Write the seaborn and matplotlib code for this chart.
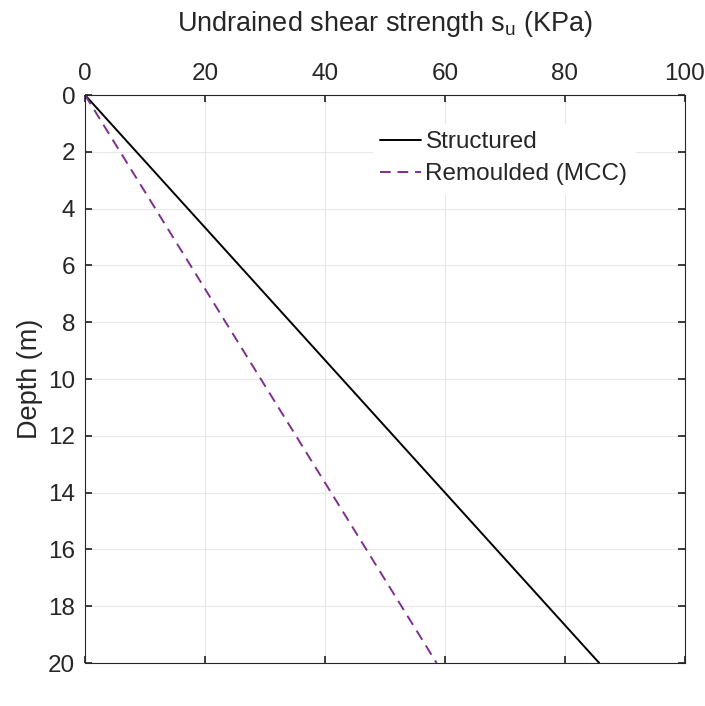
import matplotlib
matplotlib.use("Agg")
import matplotlib.pyplot as plt
import seaborn as sns
import pandas as pd

# Perfiles de resistencia al corte no drenada
profundidad = [0, 20]
su_estructurado = [0, 85.7]
su_remoldeado = [0, 58.6]

sns.set_theme(style="white")
plt.rcParams['font.family'] = ['Liberation Sans', 'DejaVu Sans']

df = pd.concat([
    pd.DataFrame({'su': su_estructurado, 'z': profundidad, 'caso': 'Structured'}),
    pd.DataFrame({'su': su_remoldeado, 'z': profundidad, 'caso': 'Remoulded (MCC)'}),
])

fig = plt.figure(figsize=(7.05, 7.06), dpi=100)
ax = fig.add_axes([85 / 705, 1 - 663 / 706, 600 / 705, 568 / 706])

sns.lineplot(data=df, x='su', y='z', hue='caso', style='caso',
             palette={'Structured': 'black', 'Remoulded (MCC)': '#7E2F8E'},
             dashes={'Structured': '', 'Remoulded (MCC)': (5.5, 3.5)},
             linewidth=1.4, ax=ax, sort=False, estimator=None)

ax.set_xlim(0, 100)
ax.set_ylim(20, 0)
ax.set_xticks(range(0, 101, 20))
ax.set_yticks(range(0, 21, 2))
ax.xaxis.tick_top()
ax.xaxis.set_label_position('top')
ax.set_xlabel(r'Undrained shear strength s$_\mathregular{u}$ (KPa)', fontsize=19.5,
              labelpad=23, color='#262626')
ax.set_ylabel('Depth (m)', fontsize=19.5, color='#262626', labelpad=4)
ax.tick_params(axis='both', labelsize=17.5, direction='in', length=5, colors='#262626',
               top=True, bottom=True, left=True, right=True, pad=7)
ax.grid(True, color='#e8e8e8', linewidth=0.8)
for s in ax.spines.values():
    s.set_color('#262626')
    s.set_linewidth(0.8)

leg = ax.legend(loc='upper left', bbox_to_anchor=(0.46, 0.97), frameon=True, fontsize=17.5,
                handlelength=1.65, handletextpad=0.2, borderpad=0.3, labelspacing=0.4)
leg.get_frame().set_edgecolor('white')
leg.get_frame().set_facecolor('white')
leg.get_frame().set_alpha(1)

fig.savefig('out.png', dpi=100)
